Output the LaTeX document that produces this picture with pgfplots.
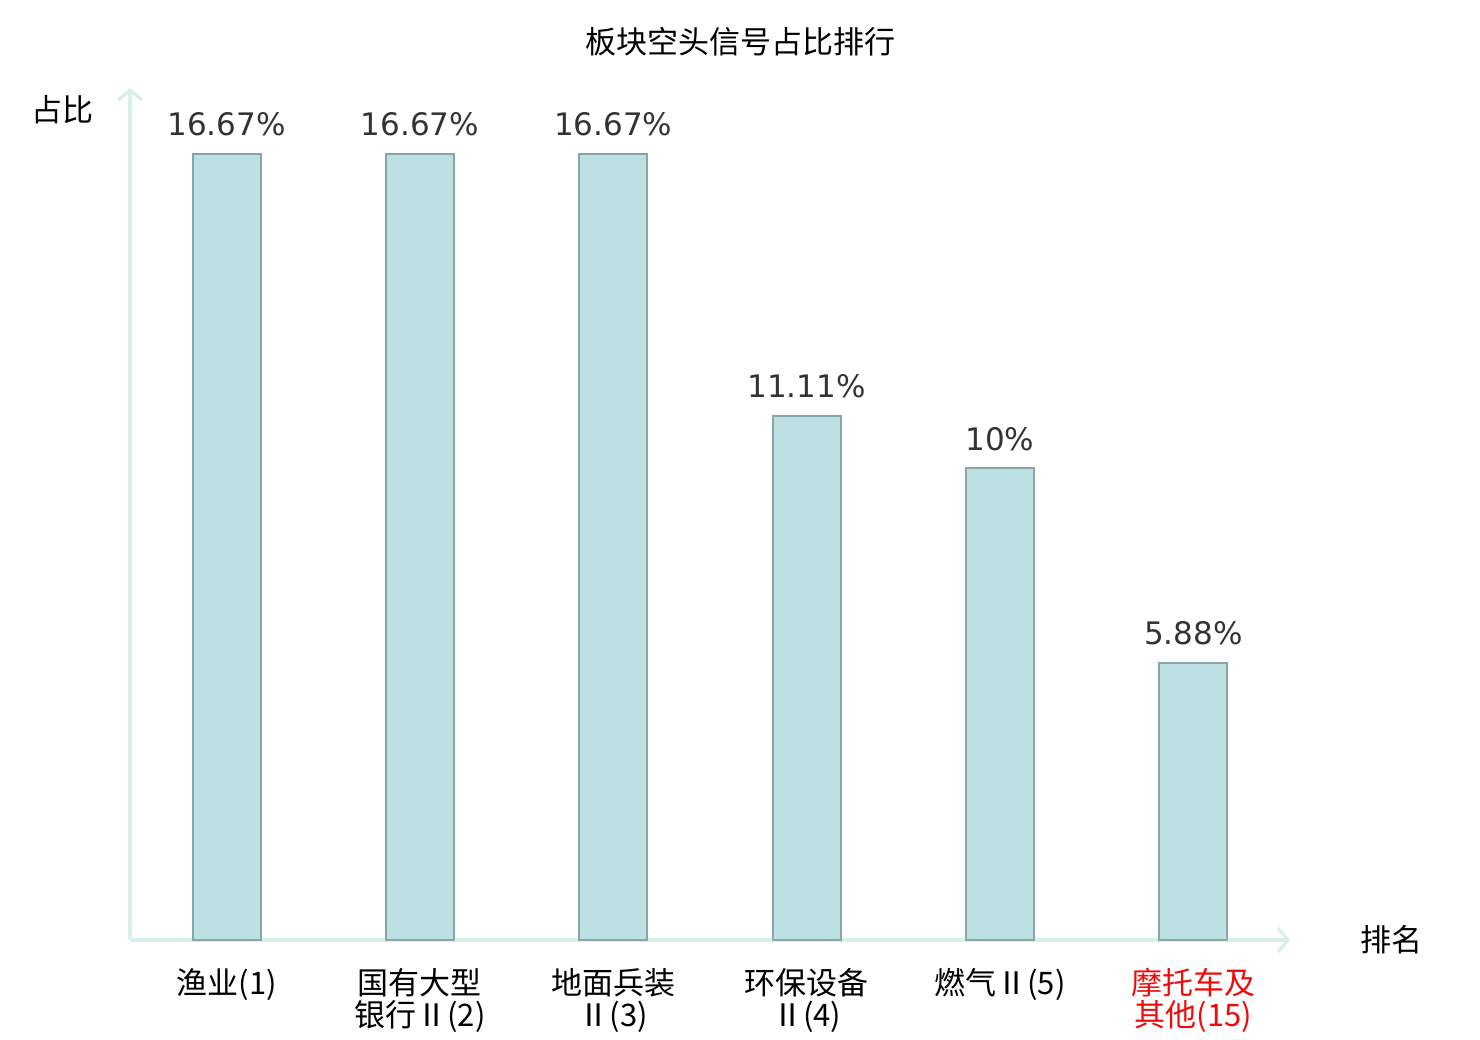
\documentclass[border=0pt]{standalone}
\usepackage{pgfplots}
\pgfplotsset{compat=1.18}
\usepackage{fontspec}
\setmainfont{DejaVu Sans}
\newfontfamily\cjk{Noto Sans CJK SC}
\usetikzlibrary{arrows.meta}
\definecolor{barfill}{HTML}{BDE0E3}
\definecolor{baredge}{HTML}{89A5A6}
\definecolor{axcol}{HTML}{D8EFEB}
\definecolor{valcol}{HTML}{333333}
\definecolor{redlab}{HTML}{F00A0A}
\begin{document}
\begin{tikzpicture}
\useasboundingbox (0,0) rectangle (740pt,520pt);
\begin{axis}[
  at={(65pt,50pt)}, anchor=south west,
  scale only axis, width=580pt, height=426pt,
  xmin=-0.5, xmax=5.5, ymin=0, ymax=18.07,
  axis lines=left,
  axis line style={draw=axcol, line width=1.7pt, -{Straight Barb[length=5pt,width=12pt,line width=1.6pt]}},
  ytick=\empty,
  xtick={0,1,2,3,4,5},
  major tick length=0pt,
  xticklabels={渔业(1), 国有大型\\银行Ⅱ(2), 地面兵装\\Ⅱ(3), 环保设备\\Ⅱ(4), 燃气Ⅱ(5), \textcolor{redlab}{摩托车及}\\\textcolor{redlab}{其他(15)}},
  xticklabel style={font=\cjk\fontsize{15.5}{16}\selectfont, align=center, anchor=north, yshift=-10.5pt, text=black},
  /pgf/number format/assume math mode=true,
  clip=false,
]
\addplot[ybar, bar width=34pt, fill=barfill, draw=baredge, line width=1pt,
  nodes near coords={\pgfmathprintnumber[fixed,precision=2]{\pgfplotspointmeta}\%},
  nodes near coords style={font=\fontsize{15.5}{18}\selectfont, text=valcol, anchor=south, inner sep=0pt, yshift=8.5pt},
] coordinates {(0,16.67) (1,16.67) (2,16.67) (3,11.11) (4,10) (5,5.88)};
\end{axis}
\node[font=\cjk\fontsize{15.5}{18}\selectfont] at (370pt,499pt) {板块空头信号占比排行};
\node[font=\cjk\fontsize{15.5}{18}\selectfont] at (31.5pt,465pt) {占比};
\node[font=\cjk\fontsize{15.5}{18}\selectfont] at (695.5pt,50pt) {排名};
\end{tikzpicture}
\end{document}
